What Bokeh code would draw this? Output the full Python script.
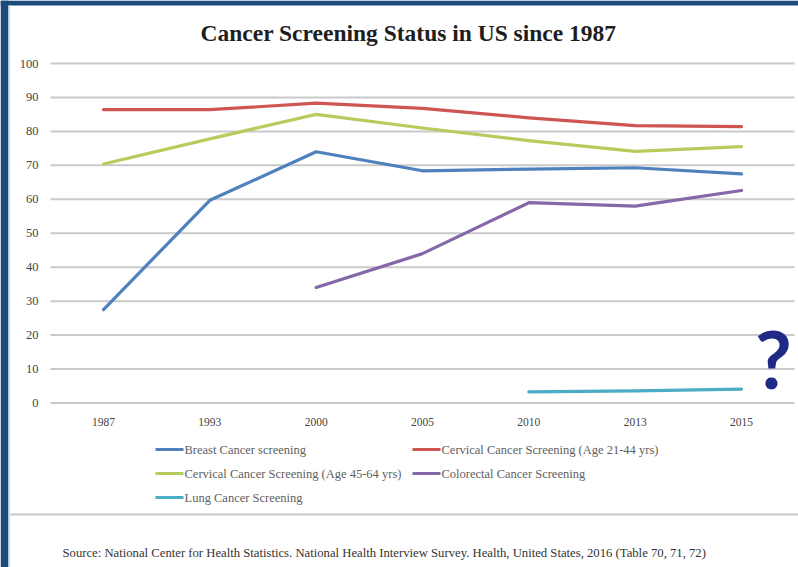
import math

from bokeh.core.properties import value
from bokeh.embed import file_html
from bokeh.models import Range1d
from bokeh.plotting import figure
from bokeh.resources import INLINE

# Survey years (categorical axis)
years = ["1987", "1993", "2000", "2005", "2010", "2013", "2015"]

# Percent of the population screened, by programme
breast = [27.5, 59.7, 74.0, 68.4, 68.9, 69.3, 67.5]
cervical_21_44 = [86.4, 86.4, 88.3, 86.8, 84.0, 81.7, 81.4]
cervical_45_64 = [70.4, 77.8, 85.0, 81.0, 77.3, 74.1, 75.5]
colorectal = [None, None, 34.0, 44.0, 59.0, 58.0, 62.6]
lung = [None, None, None, None, 3.3, 3.6, 4.1]

series_names = [
    "Breast Cancer screening",
    "Cervical Cancer Screening (Age 21-44 yrs)",
    "Cervical Cancer Screening (Age 45-64 yrs)",
    "Colorectal Cancer Screening",
    "Lung Cancer Screening",
]
series_values = [breast, cervical_21_44, cervical_45_64, colorectal, lung]
series_colors = ["#4f81bd", "#cf5553", "#b8cb5c", "#8568a8", "#4bacc6"]

y_ticks = list(range(0, 101, 10))

title_text = "Cancer Screening Status in US since 1987"
source_text = ("Source: National Center for Health Statistics. National Health "
               "Interview Survey. Health, United States, 2016 (Table 70, 71, 72)")

NAVY = "#1b4a7c"
PALE = "#d6e6f4"
RULE = "#c8c8c8"
GRID = "#cacaca"
SERIF = "Liberation Serif"

W, H = 798, 567

# Page layout in pixels: plot area and category spacing
PLOT_L, PLOT_R = 50, 794
Y0_PX, Y100_PX = 402.5, 63.0          # pixel rows of 0 % and 100 %
X0_PX, STEP_PX = 103.0, 106.33        # pixel column of the first year, spacing

px_per_pct = (Y0_PX - Y100_PX) / 100.0
y_lo = -(H - Y0_PX) / px_per_pct
y_hi = Y0_PX / px_per_pct
x_lo = -X0_PX / STEP_PX
x_hi = (W - X0_PX) / STEP_PX

# One figure whose frame is the whole page; the chart lives in the default
# ranges, the slide furniture in a pixel-space range pair named "px".
p = figure(width=W, height=H,
           x_range=Range1d(x_lo, x_hi), y_range=Range1d(y_lo, y_hi),
           x_axis_type=None, y_axis_type=None,
           output_backend="svg", toolbar_location=None, min_border=0,
           outline_line_color=None, background_fill_color="white",
           border_fill_color="white")
p.title.visible = False
p.xgrid.visible = False
p.ygrid.visible = False
p.extra_x_ranges = {"px": Range1d(0, W)}
p.extra_y_ranges = {"px": Range1d(H, 0)}
PX = dict(x_range_name="px", y_range_name="px")

x_pos = list(range(len(years)))
x_left = x_lo + PLOT_L / STEP_PX
x_right = x_lo + PLOT_R / STEP_PX

# slide furniture
p.quad(left=[0, 0, 8], right=[W, 8, 10], top=[0, 0, 5], bottom=[5, H, H],
       fill_color=[NAVY, NAVY, PALE], line_color=None, **PX)
p.quad(left=[10], right=[W], top=[513], bottom=[515],
       fill_color=RULE, line_color=None, **PX)

# title
p.text(x=[408], y=[32], text=[title_text],
       text_align="center", text_baseline="middle",
       text_font=value(SERIF), text_font_style="bold",
       text_font_size="23.5px", text_color="#1e1e1e", **PX)

# horizontal grid and value labels
p.segment(x0=[x_left] * len(y_ticks), x1=[x_right] * len(y_ticks),
          y0=y_ticks, y1=y_ticks, line_color=GRID, line_width=2)
p.text(x=[x_left - 12 / STEP_PX] * len(y_ticks), y=y_ticks,
       text=[str(t) for t in y_ticks],
       text_align="right", text_baseline="middle",
       text_font=value(SERIF), text_font_size="12.5px",
       text_color="#444444")

# year labels
p.text(x=x_pos, y=[-18.5 / px_per_pct] * len(years), text=years,
       text_align="center", text_baseline="middle",
       text_font=value(SERIF), text_font_size="11.5px",
       text_color="#444444")

# series
for vals, color in zip(series_values, series_colors):
    ys = [math.nan if v is None else v for v in vals]
    p.line(x_pos, ys, line_color=color, line_width=3.2,
           line_join="round", line_cap="round")

# question mark beside the lung series
p.text(x=[773], y=[357], text=["?"],
       text_align="center", text_baseline="middle",
       text_font=value("Lato"), text_font_style="bold",
       text_font_size="80px", text_color="#1f2a86", **PX)

# legend
legend_rows = [449, 449, 473, 473, 497]
legend_cols = [155, 412, 155, 412, 155]
for name, color, cx, cy in zip(series_names, series_colors,
                               legend_cols, legend_rows):
    p.line([cx, cx + 28], [cy, cy], line_color=color, line_width=3, **PX)
    p.text(x=[cx + 29], y=[cy], text=[name],
           text_align="left", text_baseline="middle",
           text_font=value(SERIF), text_font_size="12.5px",
           text_color="#606060", **PX)

# source note
p.text(x=[62], y=[552], text=[source_text],
       text_align="left", text_baseline="middle",
       text_font=value(SERIF), text_font_size="12.7px",
       text_color="#333333", **PX)

open("out.html", "w").write(file_html(p, INLINE))
